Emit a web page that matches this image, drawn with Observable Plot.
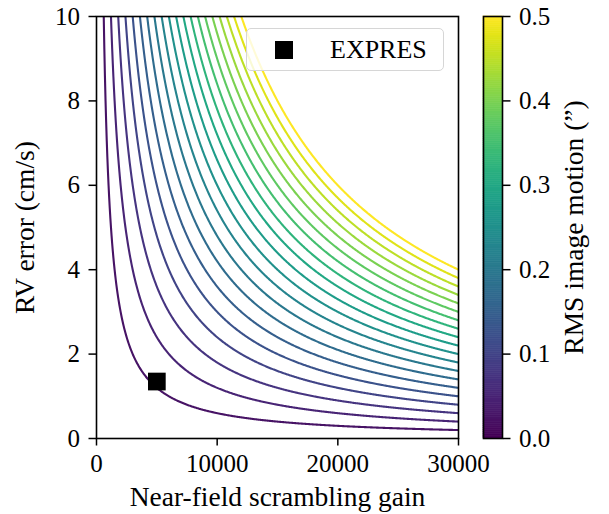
<!DOCTYPE html>
<html><head><meta charset="utf-8">
<script src="https://cdn.jsdelivr.net/npm/d3@7"></script>
<script src="https://cdn.jsdelivr.net/npm/@observablehq/plot@0.6"></script>
<style>
body{margin:0;background:#fff;}
#wrap{position:relative;width:609px;height:514px;font-family:"Liberation Serif",serif;}
#wrap > svg{position:absolute;top:0;overflow:visible;}
#legend{position:absolute;left:246px;top:28px;width:198px;height:43px;box-sizing:border-box;border:1.5px solid #d6d6d6;border-radius:5px;background:rgba(255,255,255,0.82);font-size:26px;}
#legend .sw{position:absolute;left:28px;top:12px;width:18px;height:18px;background:#000;}
#legend .tx{position:absolute;left:83px;top:4px;line-height:34px;}
</style></head><body><div id="wrap"></div>
<script>
// RMS image motion levels (arcsec) for each curve
const motions = [0.025,0.05,0.075,0.1,0.125,0.15,0.175,0.2,0.225,0.25,0.275,0.3,0.325,0.35,0.375,0.4,0.425,0.45,0.475,0.5];
// RV error = coefficient * motion / gain  (read: 0.5" -> ~4.0 cm/s at gain 30000)
const rvCoefficient = 240000;
const gainSamples = d3.range(200, 30001, 50);
const expres = [{gain: 5000, rv: 1.35, name: "EXPRES"}];
const xTicks = [0, 10000, 20000, 30000];
const yTicks = [0, 2, 4, 6, 8, 10];
const cbTicks = [0, 0.1, 0.2, 0.3, 0.4, 0.5];
const cbSlices = d3.range(0, 0.5, 0.0025);

const curves = motions.flatMap(m => gainSamples.map(g => ({motion: m, gain: g, rv: rvCoefficient * m / g})));
const font = '"Liberation Serif", serif';
const colorScale = {type: "linear", scheme: "viridis", domain: [0, 0.5]};

const main = Plot.plot({
  width: 609, height: 514,
  marginLeft: 96, marginRight: 151, marginTop: 16, marginBottom: 76,
  style: {fontFamily: font, fontSize: "25px", color: "black", background: "transparent"},
  x: {domain: [0, 30000]},
  y: {domain: [0, 10]},
  color: colorScale,
  marks: [
    Plot.line(curves, {x: "gain", y: "rv", z: "motion", stroke: "motion", strokeWidth: 2.1, clip: true}),
    Plot.dot(expres, {x: "gain", y: "rv", symbol: "square", r: 10, fill: "black", stroke: "none"}),
    Plot.axisX({ticks: xTicks, tickFormat: d => String(d), tickSize: 7.5, tickPadding: 8, strokeWidth: 1.5,
      label: "Near-field scrambling gain", labelAnchor: "center", labelArrow: "none", labelOffset: 67}),
    Plot.axisY({ticks: yTicks, tickFormat: d => String(d), tickSize: 7.5, tickPadding: 9, strokeWidth: 1.5,
      label: "RV error (cm/s)", labelAnchor: "center", labelArrow: "none", labelOffset: 82}),
    Plot.frame({stroke: "black", strokeWidth: 1.6})
  ]
});

const bar = Plot.plot({
  width: 149, height: 514,
  marginLeft: 23, marginRight: 107, marginTop: 16, marginBottom: 76,
  style: {fontFamily: font, fontSize: "25px", color: "black", background: "transparent"},
  x: {domain: [0, 1], axis: null},
  y: {domain: [0, 0.5]},
  color: colorScale,
  marks: [
    Plot.rect(cbSlices, {x1: d => 0, x2: d => 1, y1: d => d, y2: d => d + 0.0025, fill: d => d + 0.00125, stroke: d => d + 0.00125, strokeWidth: 0.6, inset: 0}),
    Plot.axisY({anchor: "right", ticks: cbTicks, tickFormat: ".1f", tickSize: 7.5, tickPadding: 9, strokeWidth: 1.5,
      label: "RMS image motion (\u201D)", labelAnchor: "center", labelArrow: "none", labelOffset: 80}),
    Plot.frame({stroke: "black", strokeWidth: 1.6})
  ]
});
bar.style.left = "460px";

for (const svg of [main, bar]) {
  d3.select(svg).selectAll('g[aria-label$="axis label"]').style("font-size", "27.5px");
}

const wrap = document.getElementById("wrap");
wrap.appendChild(main);
wrap.appendChild(bar);
const leg = document.createElement("div");
leg.id = "legend";
leg.innerHTML = '<div class="sw"></div><div class="tx">' + expres[0].name + '</div>';
wrap.appendChild(leg);
</script></body></html>
